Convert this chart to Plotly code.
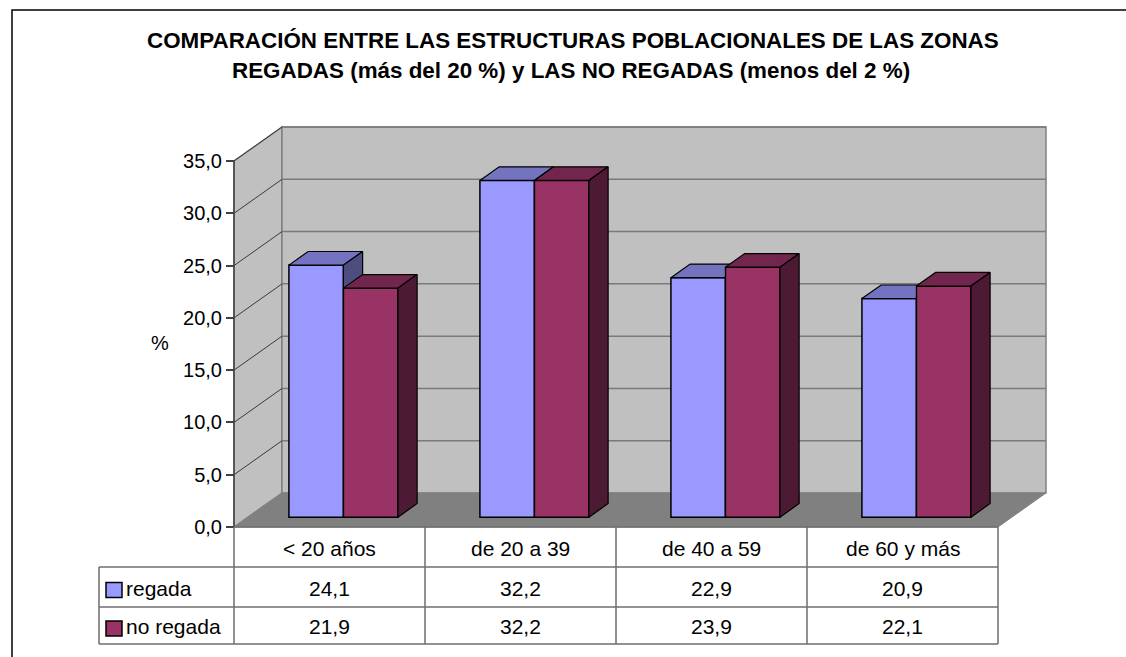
import plotly.graph_objects as go

# ---------------- data ----------------
categories = ["< 20 años", "de 20 a 39", "de 40 a 59", "de 60 y más"]
series_names = ["regada", "no regada"]
regada = [24.1, 32.2, 22.9, 20.9]
no_regada = [21.9, 32.2, 23.9, 22.1]
y_ticks = [0, 5, 10, 15, 20, 25, 30, 35]
title_lines = ["COMPARACIÓN ENTRE LAS ESTRUCTURAS POBLACIONALES DE LAS ZONAS",
               "REGADAS (más del 20 %) y LAS NO REGADAS (menos del 2 %)"]
y_title = "%"

front_colors = ["#9999FF", "#993366"]
top_colors = ["#7373BF", "#73264D"]
side_colors = ["#4D4D80", "#4D1A33"]

# ---------------- geometry (pixel layout of the Excel-like 3D frame) ----------------
W, H = 1126, 657
X0PX, X4PX = 234, 998       # front plane, category axis
Y0PX, YTPX = 527, 161       # front plane, value 0 and value 35
NCAT = len(categories)
YMAX = y_ticks[-1]
ux = (X4PX - X0PX) / NCAT
uy = (Y0PX - YTPX) / YMAX


def dx_(px):
    return (px - X0PX) / ux


def dy_(py):
    return (Y0PX - py) / uy


DX = 48 / ux          # depth offset of back wall
DY = 34 / uy
D0, DB = 0.29, 0.40   # bar depth start / thickness (fraction of depth)
bdx, bdy = DB * DX, DB * DY
bw = 54.5 / ux
gap = 41 / ux
base = D0 * DY
xshift = D0 * DX

FONT = "Liberation Sans, Arial, sans-serif"
shapes = []
annotations = []


def path(points):
    return "M " + " L ".join(f"{x:.5f},{y:.5f}" for x, y in points) + " Z"


# walls and floor
shapes.append(dict(type="path", xref="x", yref="y", layer="below",
                   path=path([(0, 0), (DX, DY), (DX, YMAX + DY), (0, YMAX)]),
                   fillcolor="#C0C0C0", line=dict(color="#808080", width=1.5)))
shapes.append(dict(type="rect", xref="x", yref="y", layer="below",
                   x0=DX, y0=DY, x1=NCAT + DX, y1=YMAX + DY,
                   fillcolor="#C0C0C0", line=dict(color="#808080", width=1.5)))
shapes.append(dict(type="path", xref="x", yref="y", layer="below",
                   path=path([(0, 0), (NCAT, 0), (NCAT + DX, DY), (DX, DY)]),
                   fillcolor="#808080", line=dict(color="#808080", width=1)))
for v in y_ticks[1:]:
    shapes.append(dict(type="line", xref="x", yref="y", layer="below",
                       x0=DX, y0=v + DY, x1=NCAT + DX, y1=v + DY,
                       line=dict(color="#7A7A7A", width=1.5)))
    shapes.append(dict(type="line", xref="x", yref="y", layer="below",
                       x0=0, y0=v, x1=DX, y1=v + DY,
                       line=dict(color="#3A3A3A", width=1)))
# front value axis line
shapes.append(dict(type="line", xref="x", yref="y", x0=0, y0=0, x1=0, y1=YMAX,
                   line=dict(color="#404040", width=1.5)))

# ---------------- bars ----------------
fig = go.Figure()
values = [regada, no_regada]
for s, vals in enumerate(values):
    xs = [i + gap + xshift + bw * (s + 0.5) for i in range(NCAT)]
    fig.add_trace(go.Bar(x=xs, y=vals, base=base, width=bw, name=series_names[s],
                         marker=dict(color=front_colors[s], line=dict(color="black", width=1.5)),
                         hoverinfo="skip", showlegend=False))


def clip_above(poly, c):
    out = []
    n = len(poly)
    for k in range(n):
        p, q = poly[k], poly[(k + 1) % n]
        pin, qin = p[1] >= c, q[1] >= c
        if pin:
            out.append(p)
        if pin != qin:
            t = (c - p[1]) / (q[1] - p[1])
            out.append((p[0] + t * (q[0] - p[0]), c))
    return out


def add_poly(poly, color):
    if len(poly) < 3:
        return
    xs = [p[0] for p in poly] + [poly[0][0]]
    ys = [p[1] for p in poly] + [poly[0][1]]
    fig.add_trace(go.Scatter(x=xs, y=ys, mode="lines", fill="toself", fillcolor=color,
                             line=dict(color="black", width=1.2), hoverinfo="skip",
                             showlegend=False))


for i in range(NCAT):
    v1, v2 = regada[i], no_regada[i]
    xl = i + gap + xshift
    xr = xl + bw
    xr2 = xr + bw
    y1 = base + v1
    y2 = base + v2
    # regada top face (clipped by front face of the next bar)
    h = min(max(v2 - v1, 0), bdy)
    top1 = [(xl, y1), (xr, y1), (xr, y1 + h), (xr + h * bdx / bdy, y1 + h),
            (xr + bdx, y1 + bdy), (xl + bdx, y1 + bdy)]
    add_poly(top1, top_colors[0])
    # regada side face (visible part above the next bar)
    side1 = [(xr, base), (xr + bdx, base + bdy), (xr + bdx, y1 + bdy), (xr, y1)]
    add_poly(clip_above(side1, y2), side_colors[0])
    # no regada top and side
    add_poly([(xr, y2), (xr2, y2), (xr2 + bdx, y2 + bdy), (xr + bdx, y2 + bdy)], top_colors[1])
    add_poly([(xr2, base), (xr2 + bdx, base + bdy), (xr2 + bdx, y2 + bdy), (xr2, y2)], side_colors[1])

# ---------------- data table ----------------
row_px = [527, 567, 607, 644]
left_px = 99
tcol = "#6E6E6E"
for i in range(NCAT + 1):
    shapes.append(dict(type="line", xref="x", yref="y", x0=i, x1=i,
                       y0=dy_(row_px[0]), y1=dy_(row_px[-1]), line=dict(color=tcol, width=1.5)))
shapes.append(dict(type="line", xref="x", yref="y", x0=dx_(left_px), x1=dx_(left_px),
                   y0=dy_(row_px[1]), y1=dy_(row_px[-1]), line=dict(color=tcol, width=1.5)))
for r, py in enumerate(row_px):
    shapes.append(dict(type="line", xref="x", yref="y",
                       x0=0 if r == 0 else dx_(left_px), x1=NCAT,
                       y0=dy_(py), y1=dy_(py), line=dict(color=tcol, width=1.5)))

tfont = dict(family=FONT, size=21, color="black")
for i, c in enumerate(categories):
    annotations.append(dict(x=i + 0.5, y=dy_((row_px[0] + row_px[1]) / 2 + 1), xref="x", yref="y",
                            text=c, showarrow=False, font=tfont, xanchor="center", yanchor="middle"))
for s, vals in enumerate(values):
    yc = dy_((row_px[s + 1] + row_px[s + 2]) / 2 + 1)
    for i, v in enumerate(vals):
        annotations.append(dict(x=i + 0.5, y=yc, xref="x", yref="y",
                                text=f"{v:.1f}".replace(".", ","), showarrow=False,
                                font=tfont, xanchor="center", yanchor="middle"))
    # legend key
    ymid = (row_px[s + 1] + row_px[s + 2]) / 2
    shapes.append(dict(type="rect", xref="x", yref="y", x0=dx_(106), x1=dx_(122),
                       y0=dy_(ymid - 7.5 + 3), y1=dy_(ymid + 7.5 + 3),
                       fillcolor=front_colors[s], line=dict(color="black", width=1.5)))
    annotations.append(dict(x=dx_(124), y=yc, xref="x", yref="y", text=series_names[s],
                            showarrow=False, font=tfont, xanchor="left", yanchor="middle"))

# ---------------- titles ----------------
tt_font = dict(family=FONT, size=22.4, color="black")
annotations.append(dict(x=573 / W, y=1 - 40 / H, xref="paper", yref="paper", text=f"<b>{title_lines[0]}</b>",
                        showarrow=False, font=tt_font, xanchor="center", yanchor="middle"))
annotations.append(dict(x=571 / W, y=1 - 71 / H, xref="paper", yref="paper", text=f"<b>{title_lines[1]}</b>",
                        showarrow=False, font=tt_font, xanchor="center", yanchor="middle"))
annotations.append(dict(x=160 / W, y=1 - 343 / H, xref="paper", yref="paper", text=y_title,
                        showarrow=False, font=dict(family=FONT, size=20, color="black"),
                        xanchor="center", yanchor="middle"))

# outer chart border
shapes.append(dict(type="rect", xref="paper", yref="paper", x0=12 / W, x1=1.02, y0=-0.02, y1=1 - 10 / H,
                   line=dict(color="black", width=1.5), fillcolor="rgba(0,0,0,0)"))

fig.update_layout(
    width=W, height=H, margin=dict(l=0, r=0, t=0, b=0),
    paper_bgcolor="white", plot_bgcolor="white",
    barmode="overlay", showlegend=False,
    shapes=shapes, annotations=annotations,
    xaxis=dict(range=[dx_(0), dx_(W)], visible=False, fixedrange=True),
    yaxis=dict(range=[dy_(H), dy_(0)], anchor="free", position=X0PX / W,
               tickvals=y_ticks, ticktext=[f"{t:.1f}".replace(".", ",") for t in y_ticks],
               ticks="outside", ticklen=8, tickwidth=1.5, tickcolor="#404040",
               tickfont=dict(family=FONT, size=20, color="black"),
               showgrid=False, zeroline=False, showline=False, fixedrange=True),
)

fig.write_html("out.html", config={"displayModeBar": False},
               post_script="document.body.style.margin='0px';document.body.style.overflow='hidden';")
